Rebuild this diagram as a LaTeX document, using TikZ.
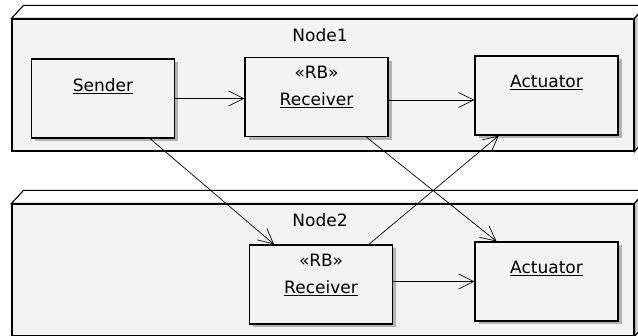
\documentclass[tikz,border=0pt]{standalone}
\usepackage{fontspec}
\setmainfont{DejaVu Sans}
\usetikzlibrary{positioning,arrows.meta,shadows}
\definecolor{faceGray}{RGB}{243,243,243}
\definecolor{sideGray}{RGB}{205,205,205}

\begin{document}
\begin{tikzpicture}[x=1pt, y=-1pt,
  nodebox/.style={draw, line width=1.1pt, fill=faceGray, minimum width=622pt, minimum height=132pt, inner sep=0pt},
  partbox/.style={draw, line width=1.2pt, fill=faceGray, minimum width=143pt, minimum height=79pt, inner sep=0pt,
    drop shadow={shadow xshift=3.5pt, shadow yshift=-3.5pt, fill=black!50, opacity=0.55}},
  titlelabel/.style={font=\fontsize{17}{20}\selectfont, inner sep=0pt},
  partlabel/.style={font=\fontsize{17}{27}\selectfont, inner sep=0pt, align=center},
  arrowstyle/.style={-{Straight Barb[length=15pt, width=15pt, line width=0.7pt]}, line width=0.7pt},
]
\clip (0,0) rectangle (638,336);

% ===================================================================
% UML nodes (3D boxes)
% ===================================================================
\foreach \n/\y in {1/85, 2/270} {
  \node[nodebox] (node\n) at (323,\y) {};
  \draw[line width=1.1pt, fill=white] (node\n.north west) -- ++(12,-13) -- ++(622,0) -- (node\n.north east) -- cycle;
  \draw[line width=1.1pt, fill=sideGray] (node\n.north east) -- ++(12,-13) -- ++(0,132) -- (node\n.south east) -- cycle;
  \node[titlelabel, below=10pt of node\n.north, xshift=-3pt] (title\n) {Node\n};
}

% ===================================================================
% Parts
% ===================================================================
\node[partbox] (sender) at (103,98.5) {};
\node[partlabel, below=20pt of sender.north] (senderlbl) {\underline{Sender}};

\node[partbox] (recv1) at (316.5,97) {};
\node[partlabel, below=9.5pt of recv1.north] (recv1lbl) {«RB»\\\underline{Receiver}};

\node[partbox] (act1) at (546.5,95.5) {};
\node[partlabel, below=20pt of act1.north] (act1lbl) {\underline{Actuator}};

\node[partbox] (recv2) at (321,284.5) {};
\node[partlabel, below=9.5pt of recv2.north] (recv2lbl) {«RB»\\\underline{Receiver}};

\node[partbox] (act2) at (546.5,281.5) {};
\node[partlabel, below=20pt of act2.north] (act2lbl) {\underline{Actuator}};

% ===================================================================
% Dependencies
% ===================================================================
\draw[arrowstyle] (sender.east) -- (sender.east -| recv1.west);
\draw[arrowstyle] ([yshift=-3pt]recv1.east) -- ([yshift=-3pt]recv1.east -| act1.west);
\draw[arrowstyle] (sender) -- (recv2);
\draw[arrowstyle] (recv1) -- (act2);
\draw[arrowstyle] (recv2) -- (act1);
\draw[arrowstyle] (recv2.east |- act2.west) -- (act2.west);

\end{tikzpicture}
\end{document}
